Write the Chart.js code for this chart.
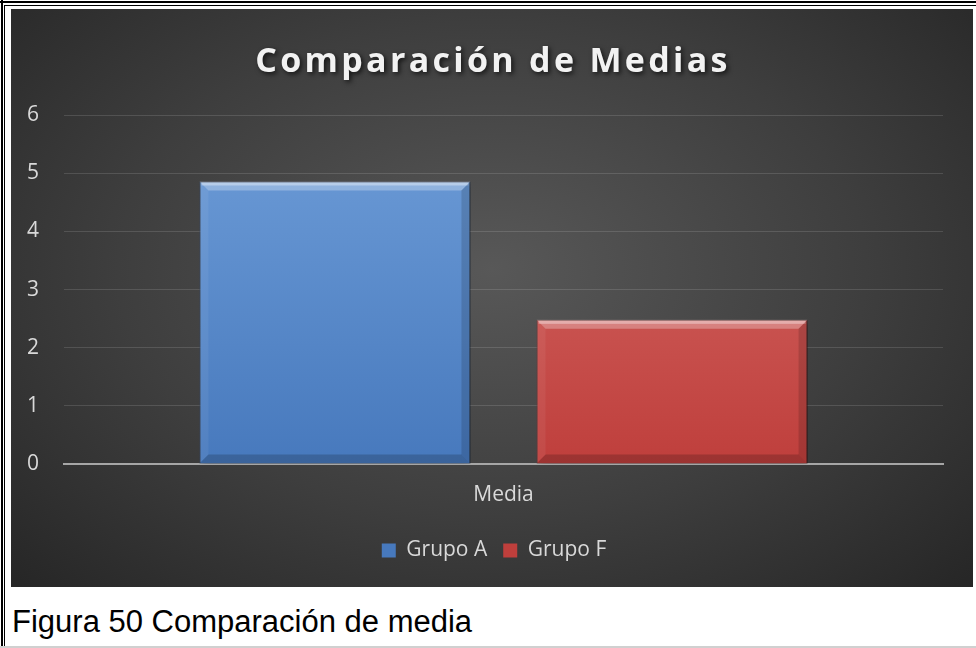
<!DOCTYPE html>
<html>
<head>
<meta charset="utf-8">
<script src="https://cdn.jsdelivr.net/npm/chart.js@4.4.1/dist/chart.umd.min.js"></script>
<style>
  body { margin: 0; background: #fff; }
  #page { position: relative; width: 976px; height: 648px; overflow: hidden; background: #fff; }
  .ln { position: absolute; background: #000; }
  #box {
    position: absolute; left: 11px; top: 9px; width: 962px; height: 578px;
    background: radial-gradient(ellipse farthest-corner at 50% 45%, #585858 0%, #3e3e3e 55%, #262626 100%);
  }
  #caption {
    position: absolute; left: 12px; top: 604px;
    font-family: "Liberation Sans", Arial, sans-serif; font-size: 31px; color: #000;
    line-height: 36px; white-space: nowrap;
  }
</style>
</head>
<body>
<div id="page">
  <div class="ln" style="left:0;top:1px;width:976px;height:2px"></div>
  <div class="ln" style="left:1px;top:0;width:2px;height:648px"></div>
  <div class="ln" style="left:4px;top:5px;width:972px;height:1px"></div>
  <div class="ln" style="left:4px;top:5px;width:1px;height:643px"></div>
  <div class="ln" style="left:0;top:646px;width:976px;height:2px;background:#d0d0d0"></div>
  <div id="box"><canvas id="chart"></canvas></div>
  <div id="caption">Figura 50 Comparación de media</div>
</div>

<script>
  // datos
  var categorias = ['Media'];
  var grupoA = [4.86];
  var grupoF = [2.48];
  var nombres = ['Grupo A', 'Grupo F'];
  var titulo = 'Comparación de Medias';

  var azulArriba = '#6e9dd8', azulAbajo = '#4779bd';
  var rojoArriba = '#d66d6a', rojoAbajo = '#bf3f3c';

  function relleno(arriba, abajo) {
    return function (c) {
      var a = c.chart.chartArea;
      if (!a) return abajo;
      var g = c.chart.ctx.createLinearGradient(0, a.top, 0, a.bottom);
      g.addColorStop(0, arriba);
      g.addColorStop(1, abajo);
      return g;
    };
  }

  // sombra + bisel de las barras
  var biselPlugin = {
    id: 'bisel',
    beforeDatasetsDraw: function (chart) {
      var ctx = chart.ctx;
      ctx.save();
      ctx.shadowColor = 'rgba(0,0,0,0.55)';
      ctx.shadowBlur = 7;
      ctx.shadowOffsetX = 2;
      ctx.shadowOffsetY = 2;
    },
    afterDatasetsDraw: function (chart) {
      var ctx = chart.ctx;
      ctx.restore();
      ctx.save();
      chart.data.datasets.forEach(function (ds, i) {
        chart.getDatasetMeta(i).data.forEach(function (bar) {
          var l = bar.x - bar.width / 2, r = bar.x + bar.width / 2;
          var t = bar.y, b = bar.base, d = 9;
          // arriba
          ctx.fillStyle = 'rgba(255,255,255,0.28)';
          ctx.beginPath();
          ctx.moveTo(l, t); ctx.lineTo(r, t); ctx.lineTo(r - d, t + d); ctx.lineTo(l + d, t + d);
          ctx.closePath(); ctx.fill();
          ctx.fillStyle = 'rgba(255,255,255,0.35)';
          ctx.fillRect(l + 2, t + 1, r - l - 4, 3);
          // izquierda
          ctx.fillStyle = 'rgba(255,255,255,0.06)';
          ctx.beginPath();
          ctx.moveTo(l, t); ctx.lineTo(l + d, t + d); ctx.lineTo(l + d, b - d); ctx.lineTo(l, b);
          ctx.closePath(); ctx.fill();
          // derecha
          ctx.fillStyle = 'rgba(0,0,0,0.14)';
          ctx.beginPath();
          ctx.moveTo(r, t); ctx.lineTo(r - d, t + d); ctx.lineTo(r - d, b - d); ctx.lineTo(r, b);
          ctx.closePath(); ctx.fill();
          // abajo
          ctx.fillStyle = 'rgba(0,0,0,0.18)';
          ctx.beginPath();
          ctx.moveTo(l, b); ctx.lineTo(l + d, b - d); ctx.lineTo(r - d, b - d); ctx.lineTo(r, b);
          ctx.closePath(); ctx.fill();
        });
      });
      ctx.restore();
    }
  };

  // titulo con espaciado entre letras y sombra
  var tituloPlugin = {
    id: 'tituloEspaciado',
    beforeDraw: function (chart) {
      // la leyenda va centrada en todo el ancho, no solo en el area sin padding
      var lg = chart.legend;
      if (lg && !lg._movida) {
        lg.left += 17; lg.right += 17;
        lg._movida = true;
      }
    },
    afterDraw: function (chart) {
      var tb = chart.titleBlock;
      if (!tb) return;
      var ctx = chart.ctx;
      ctx.save();
      ctx.font = 'bold 34px "Open Sans", sans-serif';
      ctx.letterSpacing = '3.3px';
      ctx.textAlign = 'center';
      ctx.textBaseline = 'middle';
      ctx.shadowColor = 'rgba(0,0,0,0.7)';
      ctx.shadowBlur = 5;
      ctx.shadowOffsetX = 2;
      ctx.shadowOffsetY = 2;
      ctx.fillStyle = '#f2f2f2';
      ctx.fillText(titulo, chart.width / 2 + 1, tb.top + 34 + 19);
      ctx.restore();
    }
  };

  var ctx = document.getElementById('chart').getContext('2d');
  var chart = new Chart(ctx, {
    type: 'bar',
    data: {
      labels: categorias,
      datasets: [{
        label: nombres[0],
        data: grupoA,
        backgroundColor: relleno(azulArriba, azulAbajo),
        borderColor: 'rgba(40,70,120,0.6)',
        borderWidth: 1,
        categoryPercentage: 0.767,
        barPercentage: 0.804
      }, {
        label: nombres[1],
        data: grupoF,
        backgroundColor: relleno(rojoArriba, rojoAbajo),
        borderColor: 'rgba(120,30,30,0.6)',
        borderWidth: 1,
        categoryPercentage: 0.767,
        barPercentage: 0.804
      }]
    },
    options: {
      responsive: true,
      maintainAspectRatio: false,
      animation: false,
      layout: { padding: { left: 0, right: 30, top: 0, bottom: 16 } },
      plugins: {
        title: {
          display: true,
          text: titulo,
          color: 'rgba(0,0,0,0)',
          font: { family: 'Open Sans', size: 31, weight: 'bold' },
          padding: { top: 34, bottom: 35 }
        },
        legend: {
          position: 'bottom',
          labels: {
            color: '#d9d9d9',
            font: { family: 'Open Sans', size: 21 },
            boxWidth: 14,
            boxHeight: 14,
            padding: 16,
            generateLabels: function (ch) {
              var cols = [azulAbajo, rojoAbajo];
              return ch.data.datasets.map(function (ds, i) {
                return {
                  text: ds.label, fillStyle: cols[i], strokeStyle: cols[i],
                  lineWidth: 0, fontColor: '#d9d9d9', datasetIndex: i
                };
              });
            }
          }
        },
        tooltip: { enabled: false }
      },
      scales: {
        x: {
          grid: { display: false },
          border: { display: true, color: '#a6a6a6', width: 2 },
          ticks: { color: '#d9d9d9', font: { family: 'Open Sans', size: 21 }, padding: 10 },
          afterFit: function (s) { s.height = 60; }
        },
        y: {
          min: 0,
          max: 6,
          ticks: { stepSize: 1, color: '#d9d9d9', font: { family: 'Open Sans', size: 21 }, padding: 25 },
          grid: { color: 'rgba(255,255,255,0.13)', lineWidth: 1, drawTicks: false },
          border: { display: false },
          afterFit: function (s) { s.width = 53; }
        }
      }
    },
    plugins: [biselPlugin, tituloPlugin]
  });
</script>
</body>
</html>
